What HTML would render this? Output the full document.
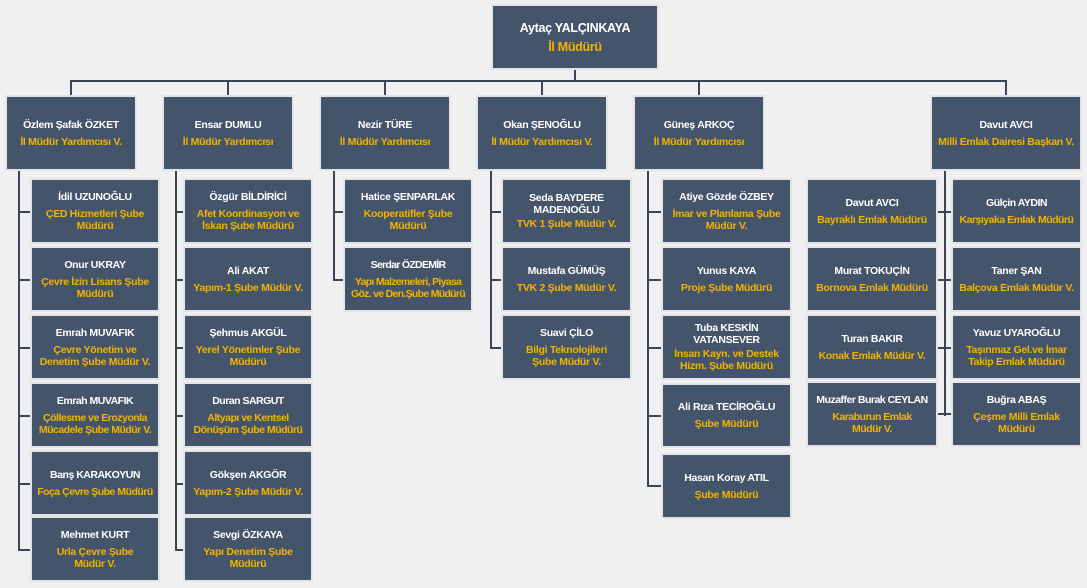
<!DOCTYPE html>
<html><head><meta charset="utf-8"><style>
body{margin:0;width:1087px;height:588px;background:#f0f0f0;position:relative;overflow:hidden;font-family:"Liberation Sans",sans-serif;}
.b{position:absolute;background:#44546a;box-shadow:0 0 0 2px #e2e4e8;display:flex;flex-direction:column;justify-content:center;align-items:center;text-align:center;font-weight:bold;font-size:10.5px;line-height:12px;letter-spacing:-0.3px;}
.b .n{color:#fff;margin-bottom:5px;}
.b .t{color:#f2b400;}
.l{position:absolute;background:#3a4658;}
</style></head><body>
<div class="l" style="left:574px;top:68px;width:2px;height:13px"></div>
<div class="l" style="left:70px;top:80px;width:937px;height:2px"></div>
<div class="l" style="left:70px;top:80px;width:2px;height:17px"></div>
<div class="l" style="left:227px;top:80px;width:2px;height:17px"></div>
<div class="l" style="left:384px;top:80px;width:2px;height:17px"></div>
<div class="l" style="left:541px;top:80px;width:2px;height:17px"></div>
<div class="l" style="left:698px;top:80px;width:2px;height:17px"></div>
<div class="l" style="left:1005px;top:80px;width:2px;height:17px"></div>

<div class="l" style="left:18px;top:169px;width:2px;height:382px"></div>
<div class="l" style="left:18px;top:211px;width:14px;height:2px"></div>
<div class="l" style="left:18px;top:279px;width:14px;height:2px"></div>
<div class="l" style="left:18px;top:347px;width:14px;height:2px"></div>
<div class="l" style="left:18px;top:415px;width:14px;height:2px"></div>
<div class="l" style="left:18px;top:483px;width:14px;height:2px"></div>
<div class="l" style="left:18px;top:549px;width:14px;height:2px"></div>

<div class="l" style="left:175px;top:169px;width:2px;height:382px"></div>
<div class="l" style="left:175px;top:211px;width:10px;height:2px"></div>
<div class="l" style="left:175px;top:279px;width:10px;height:2px"></div>
<div class="l" style="left:175px;top:347px;width:10px;height:2px"></div>
<div class="l" style="left:175px;top:415px;width:10px;height:2px"></div>
<div class="l" style="left:175px;top:483px;width:10px;height:2px"></div>
<div class="l" style="left:175px;top:549px;width:10px;height:2px"></div>

<div class="l" style="left:333px;top:169px;width:2px;height:112px"></div>
<div class="l" style="left:333px;top:211px;width:12px;height:2px"></div>
<div class="l" style="left:333px;top:279px;width:12px;height:2px"></div>

<div class="l" style="left:490px;top:169px;width:2px;height:180px"></div>
<div class="l" style="left:490px;top:211px;width:13px;height:2px"></div>
<div class="l" style="left:490px;top:279px;width:13px;height:2px"></div>
<div class="l" style="left:490px;top:347px;width:13px;height:2px"></div>

<div class="l" style="left:647px;top:169px;width:2px;height:318px"></div>
<div class="l" style="left:647px;top:211px;width:16px;height:2px"></div>
<div class="l" style="left:647px;top:279px;width:16px;height:2px"></div>
<div class="l" style="left:647px;top:347px;width:16px;height:2px"></div>
<div class="l" style="left:647px;top:415px;width:16px;height:2px"></div>
<div class="l" style="left:647px;top:485px;width:16px;height:2px"></div>

<div class="l" style="left:944px;top:169px;width:2px;height:247px"></div>
<div class="l" style="left:937px;top:211px;width:16px;height:2px"></div>
<div class="l" style="left:937px;top:279px;width:16px;height:2px"></div>
<div class="l" style="left:937px;top:347px;width:16px;height:2px"></div>
<div class="l" style="left:937px;top:413px;width:16px;height:2px"></div>

<div class="b" style="left:493px;top:6px;width:164px;height:62px;font-size:12.5px;line-height:14px"><div class="n">Aytaç YALÇINKAYA</div><div class="t">İl Müdürü</div></div>

<div class="b" style="left:7px;top:97px;width:128px;height:72px"><div class="n">Özlem Şafak ÖZKET</div><div class="t">İl Müdür Yardımcısı V.</div></div>
<div class="b" style="left:164px;top:97px;width:128px;height:72px"><div class="n">Ensar DUMLU</div><div class="t">İl Müdür Yardımcısı</div></div>
<div class="b" style="left:321px;top:97px;width:128px;height:72px"><div class="n">Nezir TÜRE</div><div class="t">İl Müdür Yardımcısı</div></div>
<div class="b" style="left:478px;top:97px;width:128px;height:72px"><div class="n">Okan ŞENOĞLU</div><div class="t">İl Müdür Yardımcısı V.</div></div>
<div class="b" style="left:635px;top:97px;width:128px;height:72px"><div class="n">Güneş ARKOÇ</div><div class="t">İl Müdür Yardımcısı</div></div>
<div class="b" style="left:932px;top:97px;width:148px;height:72px"><div class="n">Davut AVCI</div><div class="t">Milli Emlak Dairesi Başkan V.</div></div>

<div class="b" style="left:32px;top:180px;width:126px;height:62px"><div class="n">İdil UZUNOĞLU</div><div class="t">ÇED Hizmetleri Şube<br>Müdürü</div></div>
<div class="b" style="left:32px;top:248px;width:126px;height:62px"><div class="n">Onur UKRAY</div><div class="t">Çevre İzin Lisans Şube<br>Müdürü</div></div>
<div class="b" style="left:32px;top:316px;width:126px;height:62px"><div class="n">Emrah MUVAFIK</div><div class="t">Çevre Yönetim ve<br>Denetim Şube Müdür V.</div></div>
<div class="b" style="left:32px;top:384px;width:126px;height:62px;letter-spacing:-0.5px"><div class="n">Emrah MUVAFIK</div><div class="t">Çöllesme ve Erozyonla<br>Mücadele Şube Müdür V.</div></div>
<div class="b" style="left:32px;top:452px;width:126px;height:62px;letter-spacing:-0.5px"><div class="n">Barış KARAKOYUN</div><div class="t">Foça Çevre Şube Müdürü</div></div>
<div class="b" style="left:32px;top:518px;width:126px;height:62px"><div class="n">Mehmet KURT</div><div class="t">Urla Çevre Şube<br>Müdür V.</div></div>

<div class="b" style="left:185px;top:180px;width:126px;height:62px"><div class="n">Özgür BİLDİRİCİ</div><div class="t">Afet Koordinasyon ve<br>İskan Şube Müdürü</div></div>
<div class="b" style="left:185px;top:248px;width:126px;height:62px"><div class="n">Ali AKAT</div><div class="t">Yapım-1 Şube Müdür V.</div></div>
<div class="b" style="left:185px;top:316px;width:126px;height:62px"><div class="n">Şehmus AKGÜL</div><div class="t">Yerel Yönetimler Şube<br>Müdürü</div></div>
<div class="b" style="left:185px;top:384px;width:126px;height:62px;letter-spacing:-0.5px"><div class="n">Duran SARGUT</div><div class="t">Altyapı ve Kentsel<br>Dönüşüm Şube Müdürü</div></div>
<div class="b" style="left:185px;top:452px;width:126px;height:62px"><div class="n">Gökşen AKGÖR</div><div class="t">Yapım-2 Şube Müdür V.</div></div>
<div class="b" style="left:185px;top:518px;width:126px;height:62px"><div class="n">Sevgi ÖZKAYA</div><div class="t">Yapı Denetim Şube<br>Müdürü</div></div>

<div class="b" style="left:345px;top:180px;width:126px;height:62px"><div class="n">Hatice ŞENPARLAK</div><div class="t">Kooperatifler Şube<br>Müdürü</div></div>
<div class="b" style="left:345px;top:248px;width:126px;height:62px;letter-spacing:-0.7px"><div class="n">Serdar ÖZDEMİR</div><div class="t">Yapı Malzemeleri, Piyasa<br>Göz. ve Den.Şube Müdürü</div></div>

<div class="b" style="left:503px;top:180px;width:127px;height:62px"><div class="n" style="margin-bottom:2px">Seda BAYDERE<br>MADENOĞLU</div><div class="t">TVK 1 Şube Müdür V.</div></div>
<div class="b" style="left:503px;top:248px;width:127px;height:62px"><div class="n">Mustafa GÜMÜŞ</div><div class="t">TVK 2 Şube Müdür V.</div></div>
<div class="b" style="left:503px;top:316px;width:127px;height:62px"><div class="n">Suavi ÇİLO</div><div class="t">Bilgi Teknolojileri<br>Şube Müdür V.</div></div>

<div class="b" style="left:663px;top:180px;width:127px;height:62px"><div class="n">Atiye Gözde ÖZBEY</div><div class="t">İmar ve Planlama Şube<br>Müdür V.</div></div>
<div class="b" style="left:663px;top:248px;width:127px;height:62px"><div class="n">Yunus KAYA</div><div class="t">Proje Şube Müdürü</div></div>
<div class="b" style="left:663px;top:316px;width:127px;height:62px"><div class="n" style="margin-bottom:2px">Tuba KESKİN<br>VATANSEVER</div><div class="t">İnsan Kayn. ve Destek<br>Hizm. Şube Müdürü</div></div>
<div class="b" style="left:663px;top:385px;width:127px;height:61px"><div class="n">Ali Rıza TECİROĞLU</div><div class="t">Şube Müdürü</div></div>
<div class="b" style="left:663px;top:455px;width:127px;height:62px"><div class="n">Hasan Koray ATIL</div><div class="t">Şube Müdürü</div></div>

<div class="b" style="left:808px;top:180px;width:128px;height:62px"><div class="n">Davut AVCI</div><div class="t">Bayraklı Emlak Müdürü</div></div>
<div class="b" style="left:808px;top:248px;width:128px;height:62px"><div class="n">Murat TOKUÇİN</div><div class="t">Bornova Emlak Müdürü</div></div>
<div class="b" style="left:808px;top:316px;width:128px;height:62px"><div class="n">Turan BAKIR</div><div class="t">Konak Emlak Müdür V.</div></div>
<div class="b" style="left:808px;top:383px;width:128px;height:62px;letter-spacing:-0.5px"><div class="n">Muzaffer Burak CEYLAN</div><div class="t">Karaburun Emlak<br>Müdür V.</div></div>

<div class="b" style="left:953px;top:180px;width:127px;height:62px;letter-spacing:-0.5px"><div class="n">Gülçin AYDIN</div><div class="t">Karşıyaka Emlak Müdürü</div></div>
<div class="b" style="left:953px;top:248px;width:127px;height:62px"><div class="n">Taner ŞAN</div><div class="t">Balçova Emlak Müdür V.</div></div>
<div class="b" style="left:953px;top:316px;width:127px;height:62px"><div class="n">Yavuz UYAROĞLU</div><div class="t">Taşınmaz Gel.ve İmar<br>Takip Emlak Müdürü</div></div>
<div class="b" style="left:953px;top:383px;width:127px;height:62px"><div class="n">Buğra ABAŞ</div><div class="t">Çeşme Milli Emlak<br>Müdürü</div></div>
</body></html>
